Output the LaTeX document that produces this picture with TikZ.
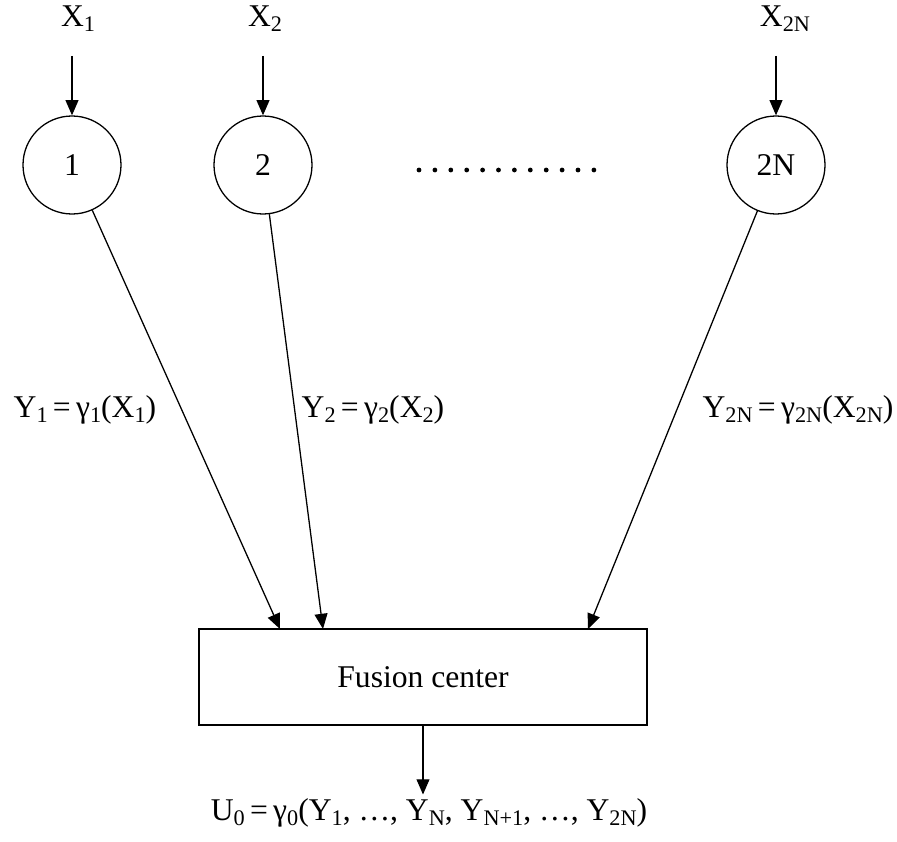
\documentclass[tikz,border=0pt]{standalone}
\usepackage{fontspec}
\setmainfont{Liberation Serif}
\usetikzlibrary{arrows.meta}
\newcommand{\low}[1]{\raisebox{-0.35ex}{\fontsize{19}{20}\selectfont #1}}
\tikzset{
  arr/.style={-{Triangle[length=13pt,width=11pt]}, line width=1.1pt},
  sensor/.style={draw, circle, line width=1.1pt, minimum size=2.94cm, inner sep=0pt},
  fusebox/.style={draw, rectangle, line width=1.1pt, minimum width=13.44cm, minimum height=2.88cm}
}
\begin{document}
\begin{tikzpicture}[x=0.03cm, y=-0.03cm, font=\fontsize{27}{32}\selectfont]
  \useasboundingbox (0,0) rectangle (897,842);
  % Sensores
  \node[sensor] (s1) at (72,165) {1};
  \node[sensor] (s2) at (263,165) {2};
  \node[sensor] (s2n) at (776,165) {2N};
  \foreach \i in {0,...,11}
    \fill (419+15.9*\i,170) circle (2.4);

  % Entradas
  \node (x1) at (78,19) {X\low{1}};
  \node (x2) at (265,19) {X\low{2}};
  \node (x2n) at (785,19) {X\low{2N}};
  \draw[arr] ([yshift=-17pt]x1.south -| s1) -- (s1);
  \draw[arr] ([yshift=-17pt]x2.south -| s2) -- (s2);
  \draw[arr] ([yshift=-17pt]x2n.south -| s2n) -- (s2n);

  % Fusion center
  \node[fusebox] (fc) at (423,677) {Fusion center};
  \coordinate (in1) at (280,629);
  \coordinate (in2) at (323,629);
  \coordinate (in2n) at (588,629);
  \draw[arr] (s1) -- (in1);
  \draw[arr] (s2) -- (in2);
  \draw[arr] (s2n) -- (in2n);

  % Etiquetas
  \node (y1) at (85,410) {Y\low{1}\,=\,γ\low{1}(X\low{1})};
  \node (y2) at (373,410) {Y\low{2}\,=\,γ\low{2}(X\low{2})};
  \node (y2n) at (798,410) {Y\low{2N}\,=\,γ\low{2N}(X\low{2N})};

  % Salida
  \node (u0) at (429,813) {U\low{0}\,=\,γ\low{0}(Y\low{1}, \dots, Y\low{N}, Y\low{N+1}, \dots, Y\low{2N})};
  \draw[arr] (fc.south) -- (fc.south |- u0.north);
\end{tikzpicture}
\end{document}
